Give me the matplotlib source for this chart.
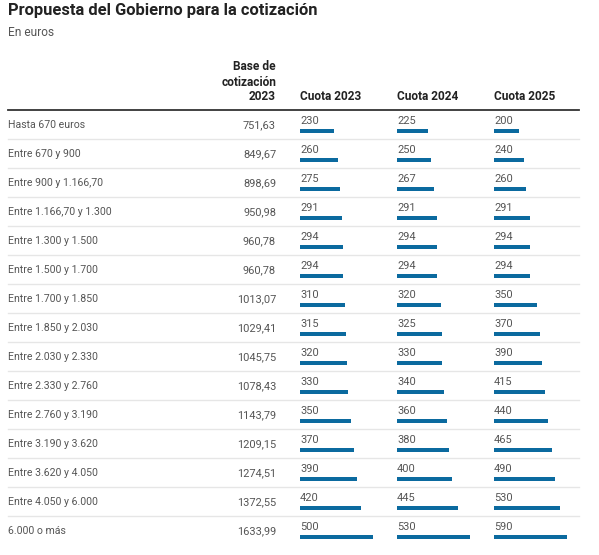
import matplotlib.pyplot as plt
import numpy as np

plt.rcParams['font.family'] = ['Roboto', 'DejaVu Sans']

# --- datos ---
tramos = ["Hasta 670 euros", "Entre 670 y 900", "Entre 900 y 1.166,70",
          "Entre 1.166,70 y 1.300", "Entre 1.300 y 1.500", "Entre 1.500 y 1.700",
          "Entre 1.700 y 1.850", "Entre 1.850 y 2.030", "Entre 2.030 y 2.330",
          "Entre 2.330 y 2.760", "Entre 2.760 y 3.190", "Entre 3.190 y 3.620",
          "Entre 3.620 y 4.050", "Entre 4.050 y 6.000", "6.000 o más"]
base_2023 = ["751,63", "849,67", "898,69", "950,98", "960,78", "960,78", "1013,07",
             "1029,41", "1045,75", "1078,43", "1143,79", "1209,15", "1274,51",
             "1372,55", "1633,99"]
cuota_2023 = [230, 260, 275, 291, 294, 294, 310, 315, 320, 330, 350, 370, 390, 420, 500]
cuota_2024 = [225, 250, 267, 291, 294, 294, 320, 325, 330, 340, 360, 380, 400, 445, 530]
cuota_2025 = [200, 240, 260, 291, 294, 294, 350, 370, 390, 415, 440, 465, 490, 530, 590]
cabeceras = ["Cuota 2023", "Cuota 2024", "Cuota 2025"]

W, H = 599, 555
fig = plt.figure(figsize=(W / 100, H / 100), dpi=100)
ax = fig.add_axes([0, 0, 1, 1])
ax.set_xlim(0, W)
ax.set_ylim(H, 0)
ax.axis('off')

azul = '#0b6a9f'
gris = '#555555'

# titulo
ax.text(8, 10, 'Propuesta del Gobierno para la cotización', fontsize=11.9,
        fontweight='bold', color='#222222', va='center', ha='left')
ax.text(8, 32, 'En euros', fontsize=8.6, color=gris, va='center', ha='left')

# cabeceras
x_base = 276
x_cols = [300, 397, 494]
ax.text(x_base, 82, 'Base de\ncotización\n2023', fontsize=8.6, fontweight='bold',
        color='#222222', ha='right', va='center', linespacing=1.2)
for x, t in zip(x_cols, cabeceras):
    ax.text(x, 96, t, fontsize=8.6, fontweight='bold', color='#222222',
            ha='left', va='center')
ax.plot([8, 579], [109.5, 109.5], color='#333333', lw=1.3)

# filas
paso = 29
y0 = 125
n = len(tramos)
ys = y0 + paso * np.arange(n)
for i, y in enumerate(ys):
    ax.text(8, y, tramos[i], fontsize=7.6, color=gris, ha='left', va='center')
    ax.text(x_base, y, base_2023[i], fontsize=7.9, color=gris, ha='right', va='center')
    if i < n - 1:
        ax.plot([8, 579], [y + 13.5, y + 13.5], color='#e6e6e6', lw=1)

bar_max = 73
for x, serie in zip(x_cols, [cuota_2023, cuota_2024, cuota_2025]):
    serie = np.array(serie)
    ax.barh(ys + 6, serie / serie.max() * bar_max, left=x, height=4,
            color=azul, align='center')
    for y, v in zip(ys, serie):
        ax.text(x, y - 4, str(v), fontsize=7.9, color=gris, ha='left', va='center')

fig.savefig('out.png', dpi=100, facecolor='white')
